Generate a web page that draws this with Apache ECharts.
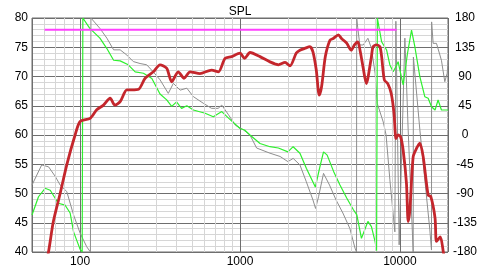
<!DOCTYPE html>
<html>
<head>
<meta charset="utf-8">
<script src="https://cdn.jsdelivr.net/npm/echarts@6/dist/echarts.min.js"></script>
<style>html,body{margin:0;padding:0;background:#fff}#c{width:480px;height:270px}</style>
</head>
<body>
<div id="c"></div>
<script>
// ---- data (frequency in Hz) ----
var splFreq = [58,63.4,68,75,82.5,93,100,115.5,127,140,154,165,178,196,210,232,255,287,316,348,374,411,447,487,562,664,733,806,886,1000,1068,1155,1334,1540,1738,1914,2054,2250,2371,2541,2738,2860,3000,3130,3240,3418,3652,3830,4125,4315,4650,4960,5200,5460,5660,5900,6170,6310,6640,6800,7140,7500,7690,8000,8400,8830,9190,9350,9441,9755,10100,10486,11000,11270,11550,12115,12706,13335,13990,15030,15600,16600,16943,17900,18700,19500];
var splDb   = [35,40,45.2,50,54.9,60,62.3,62.85,64.3,65.1,66.3,65.1,65.7,67.7,67.7,67.8,69.7,70.8,72,71.4,69.1,70.8,69.7,70.8,70.5,71.1,70.8,73.1,73.4,74,73.1,74.1,73.4,72.5,72,72.4,71.8,74,74.5,74.8,75.1,74.2,71.1,66.8,68.3,73.4,76.2,76.5,77.1,76.5,75.7,74.5,75.4,75.9,74.2,71.4,68.8,69.7,73.4,75.1,75.4,75.1,73.4,69.4,68.8,67.1,63.7,60.5,59.4,60,59.7,57.4,51.7,45.2,47.2,56.3,57.7,58.6,56.3,49.7,49.5,45.8,41.8,42.6,40,37];

var greenFreq  = [50,54.9,60.4,65,73,80.6,86.6,91,100,103,104,115,133,147,162,178,200,221,249,281,316,348,374,401,431,465,511,605,681,769,848,1000,1068,1155,1334,1540,1738,1995,2150,2371,2600,2960,3160,3330,3510,3850,4220,4650,5120,5380,5750,6310,6640,7000,7150,7216,7230,7687,8259,8660,9080,9441,9755,10100,10486,11150,11830,12409,13335,14320,15030,15771,16600,17340,18197,20045];
var greenPhase = [-123,-95,-82,-85,-105,-108,-120,-149,-176,-180,180,164,149,133,115,114,108,97,95,87,63,54,44,51,41,45,38.5,33.5,28,36,26,10,7.7,0,-13,-18,-20,-26,-18,-28,-51,-80,-49,-26,-31,-56,-77,-97,-115,-123,-159,-133,-141,-164,-178,-180,180,143.5,130.8,107.7,97.4,105,112.8,95,77,125,161.5,135.8,89.7,58.9,56.5,43.5,38.5,53.8,38.5,38.5];

var grayFreq  = [50,57.5,63.5,70,75,82.5,91,100,110,116,116.8,133,147,162,178,196,215,237,261,287,316,356,383,422,465,511,588,664,730,769,848,936,1050,1155,1270,1540,1780,1995,2150,2371,2600,2860,2970,3100,3330,3630,3990,4400,4870,5240,5357,5370,5450,5620,5900,6310,6640,7000,7216,7870,8200,8660,9306,9441,9899,10150,10746,11270,12115,12150,13335,15399,15771,15800,16150,16943,18197,19098,19770,20045];
var grayPhase = [-77,-46,-49,-64,-77,-87,-123,-151,-172,-180,180,164,149,131,131,123,113,110,108,97,85,64,79.5,69,72,59,49,41,41,46,31,15,8,0,-20,-28,-33,-41,-36,-46,-72,-100,-113,-95,-59,-77,-100,-120,-144,-174,-180,180,165,138.5,138.5,148.8,133.4,95,48.8,20,0,-69,-149,175,-169,-172,149,8,-180,120,8,-146,-177,174,141,141,115,82,95,115];

var refFreq = [60, 9550];
var refDb   = [78, 78];

var xMajorTicks = [100, 1000, 10000];
var xMinorLines = [60,70,80,90,200,300,400,500,600,700,800,900,2000,3000,4000,5000,6000,7000,8000,9000];
var leftTicks  = {min: 40, max: 80, step: 5};
var rightTicks = {min: -180, max: 180, step: 45};

function pairs(xs, ys){ return xs.map(function(x,i){ return [x, ys[i]]; }); }

var font = 'Liberation Sans, Arial, sans-serif';
var chart = echarts.init(document.getElementById('c'), null, {renderer:'canvas'});
chart.setOption({
  animation: false,
  backgroundColor: '#fff',
  title: { text: 'SPL', left: 'center', top: 1, textStyle: {fontSize: 12, fontWeight: 'normal', color: '#000', fontFamily: font} },
  grid: { left: 32, right: 32, top: 18, bottom: 18, show: true, borderColor: '#6e6e6e', borderWidth: 1, containLabel: false },
  xAxis: {
    type: 'log', logBase: 10, min: 50, max: 20000, z: 2,
    axisLine: {show: false}, axisTick: {show: false},
    axisLabel: { margin: 4, fontSize: 12, color: '#000', fontFamily: font, showMinLabel: false, showMaxLabel: false,
      formatter: function(v){ var r = Math.round(v); return xMajorTicks.indexOf(r) >= 0 ? String(r) : ''; } },
    splitLine: { show: true, lineStyle: {color: '#6e6e6e', width: 1} }
  },
  yAxis: [{
    type: 'value', min: leftTicks.min, max: leftTicks.max, interval: leftTicks.step, z: 2,
    axisLine: {show: false}, axisTick: {show: false},
    axisLabel: { margin: 4, fontSize: 12, color: '#000', fontFamily: font },
    splitLine: { show: true, lineStyle: {color: '#6e6e6e', width: 1} },
    minorTick: { show: false, splitNumber: 5 },
    minorSplitLine: { show: true, lineStyle: {color: '#d6d6d6', width: 1} }
  }, {
    type: 'value', min: rightTicks.min, max: rightTicks.max, interval: rightTicks.step, position: 'right',
    axisLine: {show: false}, axisTick: {show: false}, splitLine: {show: false},
    axisLabel: { margin: 17, align: 'center', fontSize: 12, color: '#000', fontFamily: font }
  }],
  series: [
    { type: 'line', data: [], z: 1, silent: true,
      markLine: { silent: true, symbol: ['none','none'], animation: false, label: {show: false},
        lineStyle: {color: '#d6d6d6', width: 1, type: 'solid'},
        data: xMinorLines.map(function(v){ return {xAxis: v}; }) } },
    { name: 'gray', type: 'line', yAxisIndex: 1, z: 3, data: pairs(grayFreq, grayPhase), showSymbol: false,
      lineStyle: {color: '#8e8e8e', width: 1}, clip: true },
    { name: 'green', type: 'line', yAxisIndex: 1, z: 4, data: pairs(greenFreq, greenPhase), showSymbol: false,
      lineStyle: {color: '#2ef02e', width: 1.2}, clip: true },
    { name: 'spl', type: 'line', yAxisIndex: 0, z: 5, data: pairs(splFreq, splDb), showSymbol: false, smooth: 0.25,
      lineStyle: {color: '#c4262c', width: 2.8}, clip: true },
    { name: 'ref', type: 'line', yAxisIndex: 0, z: 6, data: pairs(refFreq, refDb), showSymbol: false,
      lineStyle: {color: '#ff40ff', width: 2} }
  ]
});
</script>
</body>
</html>
